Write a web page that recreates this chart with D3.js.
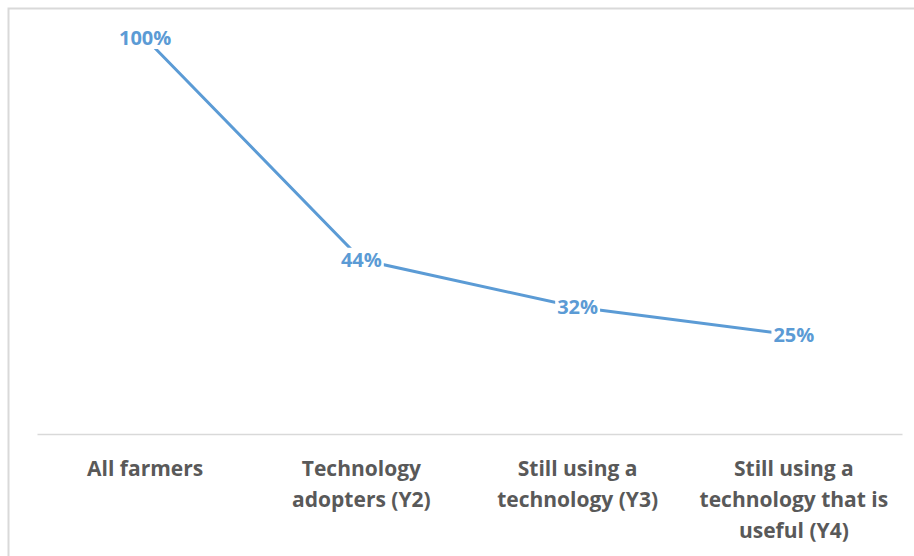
<!DOCTYPE html>
<html>
<head>
<meta charset="utf-8">
<script src="https://cdn.jsdelivr.net/npm/d3@7"></script>
<style>
  body { margin: 0; background: #fff; }
  text { font-family: "Open Sans", sans-serif; font-weight: 700; }
</style>
</head>
<body>
<svg id="chart"></svg>
<script>
// chart data
const categories = [
    ["All farmers"],
    ["Technology", "adopters (Y2)"],
    ["Still using a", "technology (Y3)"],
    ["Still using a", "technology that is", "useful (Y4)"]
]
const values = [100, 44, 32, 25]
const valueLabels = ["100%", "44%", "32%", "25%"]

const width = 914, height = 556
const margin = {top: 38, right: 12, bottom: 122, left: 37}

const svg = d3.select('#chart')
    .attr('width', width)
    .attr('height', height)

// outer frame
svg.append('rect')
    .attr('x', 8.5).attr('y', 8.5)
    .attr('width', width + 10).attr('height', height + 10)
    .attr('fill', 'none')
    .attr('stroke', '#d9d9d9')
    .attr('stroke-width', 2)

const xScale = d3.scaleBand()
    .domain(d3.range(categories.length))
    .range([margin.left, width - margin.right])

const yScale = d3.scaleLinear()
    .domain([0, 100])
    .range([height - margin.bottom, margin.top])

// baseline axis
const xAxisG = svg.append('g')
    .attr('transform', `translate(0,${yScale(0)})`)
    .call(d3.axisBottom(xScale).tickSize(0).tickFormat(''))
xAxisG.select('.domain').attr('stroke', '#d9d9d9').attr('stroke-width', 1.5)

// category labels
const catG = svg.append('g')
categories.forEach((lines, i) => {
    const t = catG.append('text')
        .attr('text-anchor', 'middle')
        .attr('fill', '#595959')
        .attr('font-size', 21)
    lines.forEach((ln, j) => {
        t.append('tspan')
            .attr('x', xScale(i) + xScale.bandwidth() / 2)
            .attr('y', 476 + j * 31)
            .text(ln)
    })
})

const cx = i => xScale(i) + xScale.bandwidth() / 2

svg.append('path')
    .datum(values)
    .attr('fill', 'none')
    .attr('stroke', '#5b9bd5')
    .attr('stroke-width', 3)
    .attr('d', d3.line().x((d, i) => cx(i)).y(d => yScale(d)))

// data labels with white background
const lab = svg.selectAll('.lab').data(values).enter().append('g').attr('class', 'lab')
lab.append('text')
    .attr('x', (d, i) => cx(i))
    .attr('y', d => yScale(d) + 7)
    .attr('text-anchor', 'middle')
    .attr('fill', '#5b9bd5')
    .attr('font-size', 20)
    .text((d, i) => valueLabels[i])
lab.each(function () {
    const g = d3.select(this)
    const bb = g.select('text').node().getBBox()
    g.insert('rect', 'text')
        .attr('x', bb.x - 2).attr('y', bb.y + 2)
        .attr('width', bb.width + 4).attr('height', bb.height - 4)
        .attr('fill', '#fff')
})
</script>
</body>
</html>
